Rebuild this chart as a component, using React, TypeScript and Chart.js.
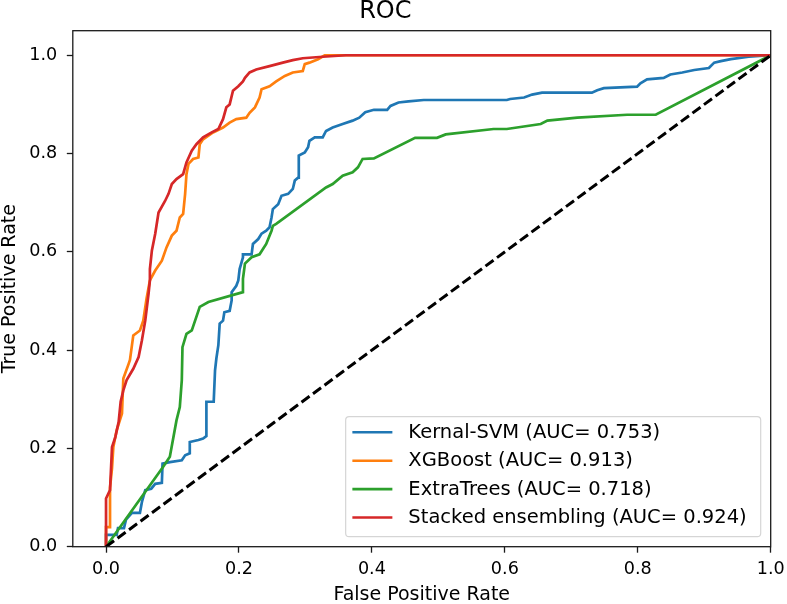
import React, { useEffect, useRef } from "react";
import { Chart, registerables } from "chart.js";

Chart.register(...registerables);

const FONT = "'DejaVu Sans', 'Liberation Sans', sans-serif";

const titleText = "ROC";
const xAxisTitle = "False Positive Rate";
const yAxisTitle = "True Positive Rate";
const xTickValues = [0, 0.2, 0.4, 0.6, 0.8, 1.0];
const yTickValues = [0, 0.2, 0.4, 0.6, 0.8, 1.0];

const seriesLabels = [
  "Kernal-SVM (AUC= 0.753)",
  "XGBoost (AUC= 0.913)",
  "ExtraTrees (AUC= 0.718)",
  "Stacked ensembling (AUC= 0.924)",
];
const seriesColors = ["#1f77b4", "#ff7f0e", "#2ca02c", "#d62728"];

const svmFpr = [0, 0, 0.016, 0.018, 0.027, 0.03, 0.039, 0.051, 0.054, 0.059, 0.068, 0.074, 0.084, 0.085, 0.096, 0.114, 0.119, 0.126, 0.126, 0.139, 0.146, 0.151, 0.151, 0.162, 0.164, 0.166, 0.169, 0.171, 0.176, 0.178, 0.186, 0.189, 0.189, 0.196, 0.199, 0.201, 0.206, 0.206, 0.219, 0.221, 0.229, 0.234, 0.241, 0.246, 0.249, 0.251, 0.259, 0.264, 0.274, 0.281, 0.284, 0.289, 0.29, 0.299, 0.304, 0.306, 0.314, 0.326, 0.331, 0.341, 0.356, 0.371, 0.381, 0.39, 0.403, 0.423, 0.428, 0.44, 0.455, 0.478, 0.603, 0.608, 0.629, 0.641, 0.656, 0.731, 0.739, 0.749, 0.799, 0.804, 0.814, 0.839, 0.849, 0.867, 0.885, 0.907, 0.915, 0.925, 0.94, 0.967, 1.0];
const svmTpr = [0, 0.024, 0.024, 0.038, 0.038, 0.055, 0.069, 0.069, 0.091, 0.115, 0.118, 0.128, 0.13, 0.169, 0.172, 0.176, 0.186, 0.19, 0.213, 0.217, 0.22, 0.225, 0.295, 0.295, 0.359, 0.383, 0.41, 0.454, 0.46, 0.477, 0.48, 0.501, 0.518, 0.531, 0.542, 0.565, 0.589, 0.595, 0.595, 0.616, 0.626, 0.637, 0.643, 0.65, 0.67, 0.687, 0.697, 0.714, 0.718, 0.728, 0.745, 0.751, 0.796, 0.802, 0.813, 0.826, 0.833, 0.833, 0.846, 0.853, 0.86, 0.867, 0.873, 0.884, 0.889, 0.889, 0.897, 0.904, 0.906, 0.909, 0.909, 0.911, 0.914, 0.92, 0.924, 0.924, 0.929, 0.933, 0.936, 0.943, 0.951, 0.954, 0.961, 0.965, 0.97, 0.974, 0.985, 0.988, 0.992, 0.997, 1.0];

const xgbFpr = [0, 0, 0.006, 0.006, 0.009, 0.011, 0.016, 0.024, 0.026, 0.034, 0.036, 0.041, 0.051, 0.056, 0.061, 0.066, 0.074, 0.084, 0.091, 0.099, 0.106, 0.111, 0.116, 0.119, 0.121, 0.124, 0.131, 0.139, 0.141, 0.146, 0.161, 0.176, 0.186, 0.196, 0.211, 0.216, 0.224, 0.231, 0.234, 0.246, 0.256, 0.269, 0.281, 0.296, 0.299, 0.306, 0.319, 0.329, 1.0];
const xgbTpr = [0, 0.04, 0.04, 0.12, 0.16, 0.203, 0.237, 0.271, 0.342, 0.372, 0.38, 0.43, 0.44, 0.46, 0.505, 0.542, 0.562, 0.582, 0.609, 0.633, 0.643, 0.67, 0.677, 0.718, 0.758, 0.779, 0.789, 0.792, 0.819, 0.829, 0.843, 0.853, 0.863, 0.87, 0.873, 0.883, 0.894, 0.914, 0.931, 0.937, 0.947, 0.958, 0.965, 0.968, 0.982, 0.985, 0.992, 1.0, 1.0];

const etFpr = [0, 0.086, 0.096, 0.106, 0.111, 0.114, 0.115, 0.121, 0.129, 0.141, 0.154, 0.206, 0.206, 0.209, 0.219, 0.231, 0.241, 0.249, 0.251, 0.256, 0.331, 0.341, 0.356, 0.371, 0.379, 0.386, 0.403, 0.465, 0.498, 0.511, 0.583, 0.603, 0.654, 0.664, 0.709, 0.784, 0.827, 1.0];
const etTpr = [0, 0.1625, 0.183, 0.257, 0.284, 0.339, 0.406, 0.433, 0.44, 0.488, 0.498, 0.518, 0.545, 0.576, 0.589, 0.595, 0.616, 0.643, 0.653, 0.657, 0.731, 0.738, 0.755, 0.762, 0.772, 0.789, 0.79, 0.832, 0.832, 0.839, 0.85, 0.85, 0.86, 0.867, 0.873, 0.879, 0.879, 1.0];

const stkFpr = [0, 0, 0.006, 0.009, 0.014, 0.019, 0.022, 0.026, 0.031, 0.041, 0.049, 0.054, 0.059, 0.064, 0.066, 0.066, 0.069, 0.074, 0.079, 0.089, 0.094, 0.099, 0.106, 0.116, 0.121, 0.129, 0.136, 0.146, 0.159, 0.169, 0.176, 0.181, 0.186, 0.191, 0.199, 0.206, 0.209, 0.216, 0.226, 0.246, 0.266, 0.281, 0.296, 0.326, 0.361, 1.0];
const stkTpr = [0, 0.098, 0.115, 0.203, 0.223, 0.254, 0.295, 0.318, 0.339, 0.362, 0.386, 0.42, 0.46, 0.515, 0.542, 0.565, 0.603, 0.637, 0.68, 0.704, 0.718, 0.738, 0.748, 0.758, 0.782, 0.806, 0.819, 0.833, 0.843, 0.85, 0.87, 0.894, 0.9, 0.928, 0.937, 0.947, 0.954, 0.965, 0.971, 0.978, 0.985, 0.99, 0.994, 0.997, 1.0, 1.0];

const chanceFpr = [0, 1];
const chanceTpr = [0, 1];

function toPoints(xs: number[], ys: number[]) {
  return xs.map((x, i) => ({ x, y: ys[i] }));
}

const spinePlugin = {
  id: "spines",
  afterDatasetsDraw(chart: any) {
    const { ctx, chartArea } = chart;
    ctx.save();
    ctx.strokeStyle = "#1a1a1a";
    ctx.lineWidth = 1.3;
    ctx.strokeRect(chartArea.left, chartArea.top, chartArea.right - chartArea.left, chartArea.bottom - chartArea.top);
    ctx.restore();
  },
};

const boxLegendPlugin = {
  id: "boxLegend",
  afterDraw(chart: any) {
    const { ctx, chartArea } = chart;
    const items = chart.data.datasets.filter((d: any) => d.inLegend);
    ctx.save();
    ctx.font = `19.5px ${FONT}`;
    let maxW = 0;
    items.forEach((d: any) => {
      maxW = Math.max(maxW, ctx.measureText(d.label).width);
    });
    const padL = 6.7, handle = 40, gap = 16, padR = 14;
    const w = padL + handle + gap + maxW + padR;
    const rowH = 28.4;
    const h = 120;
    const right = chartArea.right - 10;
    const bottom = chartArea.bottom - 10;
    const left = right - w;
    const top = bottom - h;
    const r = 3.5;
    ctx.beginPath();
    ctx.moveTo(left + r, top);
    ctx.lineTo(right - r, top);
    ctx.quadraticCurveTo(right, top, right, top + r);
    ctx.lineTo(right, bottom - r);
    ctx.quadraticCurveTo(right, bottom, right - r, bottom);
    ctx.lineTo(left + r, bottom);
    ctx.quadraticCurveTo(left, bottom, left, bottom - r);
    ctx.lineTo(left, top + r);
    ctx.quadraticCurveTo(left, top, left + r, top);
    ctx.closePath();
    ctx.fillStyle = "rgba(255,255,255,0.8)";
    ctx.fill();
    ctx.strokeStyle = "#d5d5d5";
    ctx.lineWidth = 1.2;
    ctx.stroke();
    items.forEach((d: any, i: number) => {
      const cy = top + 15.6 + i * rowH;
      ctx.beginPath();
      ctx.strokeStyle = d.borderColor;
      ctx.lineWidth = 2.6;
      ctx.moveTo(left + padL, cy);
      ctx.lineTo(left + padL + handle, cy);
      ctx.stroke();
      ctx.fillStyle = "#000";
      ctx.textAlign = "left";
      ctx.textBaseline = "middle";
      ctx.fillText(d.label, left + padL + handle + gap, cy + 0.5);
    });
    ctx.restore();
  },
};

export default function App() {
  const canvasRef = useRef<HTMLCanvasElement | null>(null);

  useEffect(() => {
    if (!canvasRef.current) return;
    const series = [
      { fpr: svmFpr, tpr: svmTpr },
      { fpr: xgbFpr, tpr: xgbTpr },
      { fpr: etFpr, tpr: etTpr },
      { fpr: stkFpr, tpr: stkTpr },
    ];
    const datasets: any[] = series.map((s, i) => ({
      label: seriesLabels[i],
      inLegend: true,
      data: toPoints(s.fpr, s.tpr),
      borderColor: seriesColors[i],
      backgroundColor: seriesColors[i],
      borderWidth: 2.7,
      showLine: true,
      pointRadius: 0,
      pointHoverRadius: 0,
      fill: false,
      tension: 0,
      order: 4 - i + 1,
    }));
    datasets.push({
      label: "chance",
      inLegend: false,
      data: toPoints(chanceFpr, chanceTpr),
      borderColor: "#000",
      backgroundColor: "#000",
      borderWidth: 3,
      borderDash: [10, 4.3],
      showLine: true,
      pointRadius: 0,
      fill: false,
      tension: 0,
      order: 0,
    });

    const tickFont = { family: FONT, size: 17.6, lineHeight: 1.2 };

    const chart = new Chart(canvasRef.current, {
      type: "scatter",
      data: { datasets },
      options: {
        animation: false,
        responsive: false,
        layout: { padding: { left: 0, top: 0, right: 16.3, bottom: 0 } },
        plugins: {
          legend: { display: false },
          tooltip: { enabled: false },
          title: {
            display: true,
            text: titleText,
            color: "#000",
            font: { family: FONT, size: 24, weight: "normal", lineHeight: 1 },
            padding: { top: 0, bottom: 6.7 },
          },
        },
        scales: {
          x: {
            type: "linear",
            min: -0.05,
            max: 1.0,
            afterBuildTicks: (s: any) => {
              s.ticks = xTickValues.map((v) => ({ value: v }));
            },
            afterFit: (s: any) => {
              s.height = 57.3;
              s.paddingLeft = 0;
              s.paddingRight = 0;
            },
            ticks: {
              callback: (v: any) => Number(v).toFixed(1),
              font: tickFont,
              color: "#000",
              padding: 6.4,
              maxRotation: 0,
              minRotation: 0,
              autoSkip: false,
            },
            grid: {
              display: true,
              drawOnChartArea: false,
              drawTicks: true,
              tickLength: 6,
              tickColor: "#1a1a1a",
              tickWidth: 1.3,
            },
            border: { display: false },
            title: {
              display: true,
              text: xAxisTitle,
              color: "#000",
              font: { family: FONT, size: 19, lineHeight: 0.9 },
              padding: { top: 0, bottom: 0 },
            },
          },
          y: {
            type: "linear",
            min: 0,
            max: 1.05,
            afterBuildTicks: (s: any) => {
              s.ticks = yTickValues.map((v) => ({ value: v }));
            },
            afterFit: (s: any) => {
              s.width = 72.8;
              s.paddingTop = 0;
              s.paddingBottom = 0;
            },
            ticks: {
              callback: (v: any) => Number(v).toFixed(1),
              font: tickFont,
              color: "#000",
              padding: 9.5,
              autoSkip: false,
            },
            grid: {
              display: true,
              drawOnChartArea: false,
              drawTicks: true,
              tickLength: 6,
              tickColor: "#1a1a1a",
              tickWidth: 1.3,
            },
            border: { display: false },
            title: {
              display: true,
              text: yAxisTitle,
              color: "#000",
              font: { family: FONT, size: 19, lineHeight: 1.1 },
              padding: { top: 0, bottom: 0 },
            },
          },
        },
      } as any,
      plugins: [spinePlugin, boxLegendPlugin],
    });
    return () => chart.destroy();
  }, []);

  return (
    <div style={{ position: "absolute", left: 0, top: 0, width: 787, height: 604, background: "#fff" }}>
      <canvas ref={canvasRef} width={787} height={604} style={{ width: 787, height: 604, display: "block" }} />
    </div>
  );
}
